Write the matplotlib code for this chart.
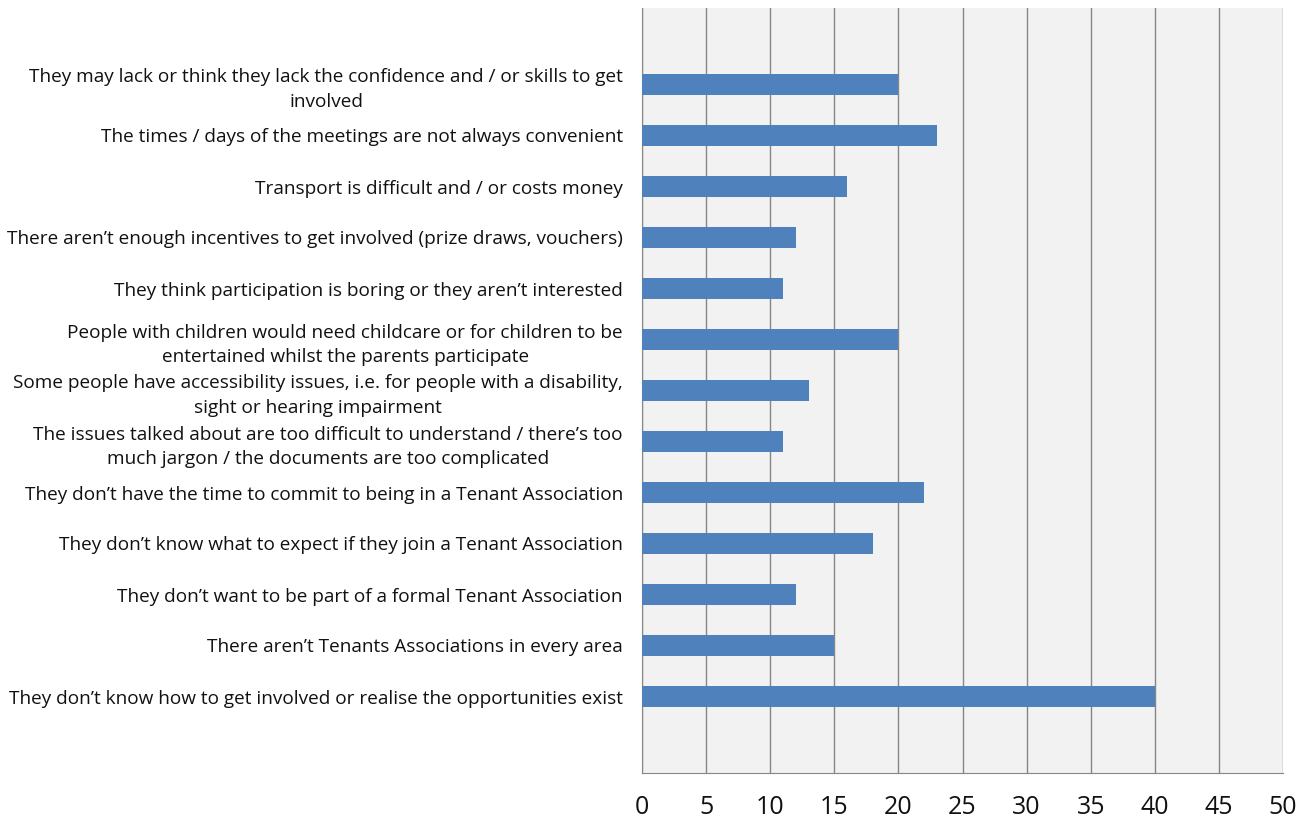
import matplotlib.pyplot as plt
import numpy as np

labels = [
    "They may lack or think they lack the confidence and / or skills to get\ninvolved",
    "The times / days of the meetings are not always convenient",
    "Transport is difficult and / or costs money",
    "There aren\u2019t enough incentives to get involved (prize draws, vouchers)",
    "They think participation is boring or they aren\u2019t interested",
    "People with children would need childcare or for children to be\nentertained whilst the parents participate",
    "Some people have accessibility issues, i.e. for people with a disability,\nsight or hearing impairment",
    "The issues talked about are too difficult to understand / there\u2019s too\nmuch jargon / the documents are too complicated",
    "They don\u2019t have the time to commit to being in a Tenant Association",
    "They don\u2019t know what to expect if they join a Tenant Association",
    "They don\u2019t want to be part of a formal Tenant Association",
    "There aren\u2019t Tenants Associations in every area",
    "They don\u2019t know how to get involved or realise the opportunities exist",
]
values = [20, 23, 16, 12, 11, 20, 13, 11, 22, 18, 12, 15, 40]
xticks = [0, 5, 10, 15, 20, 25, 30, 35, 40, 45, 50]

plt.rcParams["font.family"] = ["Open Sans", "DejaVu Sans"]

fig = plt.figure(figsize=(13.06, 8.23), dpi=100)
ax = fig.add_axes([642 / 1306, 1 - 773 / 823, 641 / 1306, 765 / 823])
ax.set_facecolor("#f2f2f2")

y = np.arange(len(values))
ax.barh(y, values, height=0.4, color="#4f81bd", zorder=3)

ax.set_ylim(len(values) - 1 + 1.5, -1.5)
ax.set_xlim(0, 50)
ax.set_xticks(xticks)
ax.set_xticklabels([str(t) for t in xticks], fontsize=18, color="#111111")
ax.tick_params(axis="x", length=0, pad=16)
ax.set_yticks(y)
ax.set_yticklabels(labels, fontsize=13.7, color="#111111",
                   multialignment="center", linespacing=1.45)
ax.tick_params(axis="y", length=0, pad=13.7)

ax.grid(axis="x", color="#868686", linewidth=1.0, zorder=1)
ax.spines[["top", "right"]].set_visible(False)
ax.spines["left"].set_color("#868686")
ax.spines["bottom"].set_color("#868686")

fig.savefig("out.png", dpi=100)
plt.close(fig)
